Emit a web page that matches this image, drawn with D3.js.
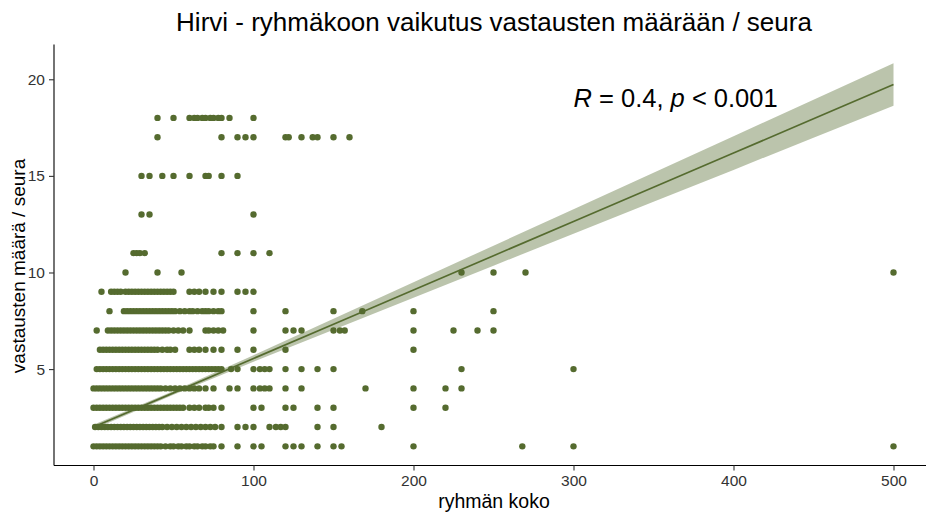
<!DOCTYPE html>
<html>
<head>
<meta charset="utf-8">
<script src="https://cdn.jsdelivr.net/npm/d3@7"></script>
<style>
  html, body { margin: 0; padding: 0; background: #ffffff; }
  svg { display: block; font-family: "Liberation Sans", Arial, sans-serif; }
</style>
</head>
<body>
<svg id="chart" width="926" height="513"></svg>
<script>
// ---- data ----
const titleText = "Hirvi - ryhmäkoon vaikutus vastausten määrään / seura";
const xLabel = "ryhmän koko";
const yLabel = "vastausten määrä / seura";
const xTicks = [0, 100, 200, 300, 400, 500];
const yTicks = [5, 10, 15, 20];

// x values (group size) of the points in each row (number of answers)
const row1 = [0,2,4,6,8,10,12,14,16,18,20,22,24,26,28,30,32,34,36,38,40,42,45,48,50,53,55,58,60,63,65,68,70,73,75,80,90,100,105,120,125,130,140,150,155,200,268,300,500];
const row2 = [1,3,5,7,9,11,13,15,17,19,21,23,25,27,29,31,33,35,37,39,41,43,46,49,52,55,58,61,64,67,70,73,76,80,90,95,100,110,114,117,120,140,150,180];
const row3 = [0,2,4,6,8,10,12,14,16,18,20,22,24,26,28,30,32,34,36,38,40,42,44,46,48,50,52,54,56,60,63,66,70,72,75,80,100,105,120,125,140,150,200,220];
const row4 = [0,2,4,6,8,10,12,14,16,18,20,22,24,26,28,30,32,34,36,38,40,42,45,48,51,54,57,60,63,66,70,75,85,90,100,104,107,110,120,130,170,200,220,230];
const row5 = [2,4,6,8,10,12,14,16,18,20,22,24,26,28,30,32,34,36,38,40,42,44,46,48,50,52,54,56,58,60,62,64,66,68,70,72,74,76,78,80,86,90,100,104,107,110,120,130,140,150,230,300];
const row6 = [4,6,8,10,12,14,16,18,20,22,24,26,28,30,32,34,36,38,40,43,46,48,51,60,63,66,70,75,80,90,100,120,200];
const row7 = [2,9,11,13,15,17,19,21,23,25,27,29,31,33,35,37,39,41,43,45,47,50,53,56,60,70,72,75,78,81,100,120,125,130,150,154,157,200,225,240,250];
const row8 = [10,19,21,23,25,27,29,31,33,35,37,39,41,43,45,47,49,51,54,57,60,62,65,68,70,72,75,78,80,100,120,150,168,200,250];
const row9 = [5,11,13,15,17,20,22,24,26,28,30,32,34,36,38,40,42,44,46,48,50,60,63,66,70,75,80,90,95,100];
const row10 = [20,40,55,230,250,270,500];
const row11 = [25,27,29,32,80,90,100,110];
const row13 = [30,35,100];
const row15 = [30,35,43,50,60,70,72,80,90];
const row17 = [40,80,90,95,100,120,122,130,137,140,150,160];
const row18 = [40,50,60,63,65,68,70,73,75,78,80,85,100];

const rowValues = [1,2,3,4,5,6,7,8,9,10,11,13,15,17,18];
const rowXs = [row1,row2,row3,row4,row5,row6,row7,row8,row9,row10,row11,row13,row15,row17,row18];

// fitted regression line and its confidence band
const fitX  = [0, 50, 100, 150, 200, 250, 300, 350, 400, 450, 500];
const fitY  = [2.0, 3.77, 5.55, 7.32, 9.09, 10.87, 12.64, 14.41, 16.18, 17.96, 19.73];
const fitLo = [1.88, 3.67, 5.38, 7.04, 8.69, 10.35, 12.01, 13.66, 15.31, 16.98, 18.63];
const fitHi = [2.12, 3.87, 5.72, 7.60, 9.49, 11.39, 13.27, 15.16, 17.05, 18.94, 20.83];

const statX = 300, statY = 19.05;

// ---- drawing ----
const svg = d3.select("#chart");
const color = "#556B2F";

const x = d3.scaleLinear().domain([-25, 525]).range([53.5, 933.5]);
const y = d3.scaleLinear().domain([0.01, 21.8]).range([465.5, 44.5]);

const points = [];
rowValues.forEach((v, i) => rowXs[i].forEach(xv => points.push({x: xv, y: v})));

svg.append("g").selectAll("circle").data(points).join("circle")
  .attr("cx", d => x(d.x)).attr("cy", d => y(d.y)).attr("r", 3.2)
  .attr("fill", color);

const band = fitX.map((xv, i) => ({x: xv, lo: fitLo[i], hi: fitHi[i], f: fitY[i]}));
svg.append("path").datum(band)
  .attr("d", d3.area().x(d => x(d.x)).y0(d => y(d.lo)).y1(d => y(d.hi)))
  .attr("fill", color).attr("fill-opacity", 0.4);
svg.append("path").datum(band)
  .attr("d", d3.line().x(d => x(d.x)).y(d => y(d.f)))
  .attr("fill", "none").attr("stroke", color).attr("stroke-width", 1.7);

// axes
const xAxis = svg.append("g").attr("transform", "translate(0,465.5)")
  .call(d3.axisBottom(x).tickValues(xTicks).tickSize(5).tickPadding(4).tickFormat(d3.format("d")));
const yAxis = svg.append("g").attr("transform", "translate(54,0)")
  .call(d3.axisLeft(y).tickValues(yTicks).tickSize(5).tickPadding(4).tickFormat(d3.format("d")));
[xAxis, yAxis].forEach(g => {
  g.select(".domain").attr("stroke", "#000").attr("stroke-width", 1.1);
  g.selectAll(".tick line").attr("stroke", "#333").attr("stroke-width", 1.1);
  g.selectAll(".tick text").attr("fill", "#333").style("font-size", "15.5px")
    .style("font-family", "'Liberation Sans', Arial, sans-serif");
});
xAxis.select(".domain").attr("d", "M54,0H926");
yAxis.select(".domain").attr("d", "M0,44.5V465.5");

// titles
svg.append("text").attr("x", 494).attr("y", 31).attr("text-anchor", "middle")
  .style("font-size", "26px").attr("fill", "#000").text(titleText);
svg.append("text").attr("x", 494).attr("y", 508).attr("text-anchor", "middle")
  .style("font-size", "19.5px").attr("fill", "#000").text(xLabel);
svg.append("text").attr("transform", "translate(25,266) rotate(-90)").attr("text-anchor", "middle")
  .style("font-size", "19px").attr("fill", "#000").text(yLabel);

// correlation label
const stat = svg.append("text").attr("x", x(statX)).attr("y", y(statY))
  .attr("dominant-baseline", "central").style("font-size", "25.5px").attr("fill", "#000");
stat.append("tspan").style("font-style", "italic").text("R");
stat.append("tspan").text(" = 0.4, ");
stat.append("tspan").style("font-style", "italic").text("p");
stat.append("tspan").text(" < 0.001");
</script>
</body>
</html>
